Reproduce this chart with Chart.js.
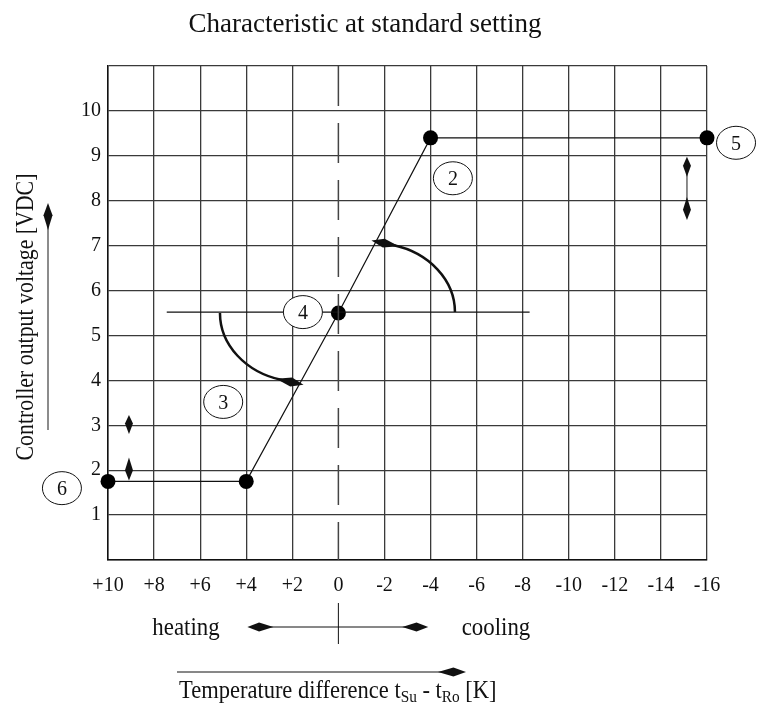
<!DOCTYPE html>
<html>
<head>
<meta charset="utf-8">
<script src="https://cdn.jsdelivr.net/npm/chart.js@4.4.0/dist/chart.umd.min.js"></script>
<style>
  body { margin: 0; background: #fff; }
  canvas { display: block; }
</style>
</head>
<body>
<canvas id="char_canvas" width="758" height="704"></canvas>
<script>
// Characteristic: temperature difference [K] -> controller output [VDC]
const curve_x = [10, 4, 0, -4, -16];
const curve_y = [1.75, 1.75, 5.5, 9.4, 9.4];

// horizontal line through the set point
const setline_x = [7.45, -8.3];
const setline_y = [5.52, 5.52];

// tick labels
const x_ticks = [10, 8, 6, 4, 2, 0, -2, -4, -6, -8, -10, -12, -14, -16];
const y_ticks = [1, 2, 3, 4, 5, 6, 7, 8, 9, 10];

// numbered circles (placed in data units)
const marker_text = ['2', '3', '4', '5', '6'];
const marker_x = [-4.97, 5.0, 1.54, -17.26, 12.0];
const marker_y = [8.5, 3.52, 5.52, 9.29, 1.6];

const FONT = "'Liberation Serif', 'Times New Roman', serif";

function head(ctx, x, y, ang, len, hw) {
    // leaf shaped arrow head, tip at x,y pointing to ang
    let c = Math.cos(ang), s = Math.sin(ang);
    let mx = x - c * len * 0.45, my = y - s * len * 0.45;
    ctx.beginPath();
    ctx.moveTo(x, y);
    ctx.lineTo(mx - s * hw, my + c * hw);
    ctx.lineTo(x - c * len, y - s * len);
    ctx.lineTo(mx + s * hw, my - c * hw);
    ctx.closePath();
    ctx.fill();
}

// quarter ellipse drawn with decreasing angle, arrow head at its end
function arcArrow(ctx, cx, cy, rx, ry, a0, a1) {
    ctx.beginPath();
    ctx.ellipse(cx, cy, rx, ry, 0, a0, a1, true);
    ctx.stroke();
    let ex = cx + rx * Math.cos(a1), ey = cy + ry * Math.sin(a1);
    let ang = Math.atan2(-ry * Math.cos(a1), rx * Math.sin(a1));
    head(ctx, ex + Math.cos(ang) * 22, ey + Math.sin(ang) * 22, ang, 28, 4.5);
}

function txt(ctx, str, x, y, size, sx, align) {
    ctx.save();
    ctx.translate(x, y);
    ctx.scale(sx, 1);
    ctx.font = size + 'px ' + FONT;
    ctx.textAlign = align || 'center';
    ctx.textBaseline = 'alphabetic';
    ctx.fillText(str, 0, 0);
    ctx.restore();
}

const extras = {
    id: 'extras',
    afterDraw(chart) {
        const ctx = chart.ctx;
        const xs = chart.scales.x, ys = chart.scales.y;
        const px = v => xs.getPixelForValue(v);
        const py = v => ys.getPixelForValue(v);
        ctx.save();
        ctx.fillStyle = '#111';
        ctx.strokeStyle = '#111';

        // title
        txt(ctx, 'Characteristic at standard setting', 365, 32, 27, 1);

        // curved arrows around the set point
        let rx = Math.abs(px(0) - px(3.56)), ry = Math.abs(py(0) - py(1.54));
        let cut = Math.acos(20 / rx);
        ctx.lineWidth = 2.5;
        arcArrow(ctx, px(-1.5), py(5.52), rx, ry, 0, -cut);
        arcArrow(ctx, px(1.58), py(5.5), rx, ry, Math.PI, Math.PI - cut);

        // up / down arrows
        ctx.lineWidth = 1.5;
        ctx.strokeStyle = '#666';
        let ax = px(-15.13);
        ctx.beginPath();
        ctx.moveTo(ax, py(8.9)); ctx.lineTo(ax, py(7.65));
        ctx.stroke();
        head(ctx, ax, py(8.98), -Math.PI / 2, 20, 4);
        head(ctx, ax, py(7.57), Math.PI / 2, 23, 4);
        ax = px(9.09);
        head(ctx, ax, py(3.23), -Math.PI / 2, 19, 4);
        head(ctx, ax, py(1.77), Math.PI / 2, 23, 4);

        // numbered circles
        ctx.strokeStyle = '#111';
        ctx.lineWidth = 1;
        for (let i = 0; i < marker_text.length; i++) {
            let mx = px(marker_x[i]), my = py(marker_y[i]);
            ctx.beginPath();
            ctx.ellipse(mx, my, 19.5, 16.5, 0, 0, Math.PI * 2);
            ctx.fillStyle = '#fff';
            ctx.fill();
            ctx.stroke();
            ctx.fillStyle = '#111';
            txt(ctx, marker_text[i], mx, my + 7, 20, 1);
        }

        // y axis title + arrow
        ctx.save();
        ctx.translate(33, 317);
        ctx.rotate(-Math.PI / 2);
        txt(ctx, 'Controller output voltage [VDC]', 0, 0, 26, 0.84);
        ctx.restore();
        ctx.strokeStyle = '#666';
        ctx.lineWidth = 1.5;
        ctx.beginPath();
        ctx.moveTo(48, 430); ctx.lineTo(48, 215);
        ctx.stroke();
        head(ctx, 48, 203, -Math.PI / 2, 27, 4.5);

        // heating / cooling
        let hy = 627;
        ctx.strokeStyle = '#111';
        ctx.lineWidth = 1;
        ctx.beginPath();
        ctx.moveTo(px(3.6), hy); ctx.lineTo(px(-3.6), hy);
        ctx.moveTo(px(0), 603); ctx.lineTo(px(0), 644);
        ctx.stroke();
        head(ctx, px(3.95), hy, Math.PI, 26, 4.5);
        head(ctx, px(-3.9), hy, 0, 26, 4.5);
        txt(ctx, 'heating', 186, 635, 26, 0.88);
        txt(ctx, 'cooling', 496, 635, 26, 0.88);

        // temperature difference arrow + label
        ctx.beginPath();
        ctx.moveTo(177, 672); ctx.lineTo(450, 672);
        ctx.stroke();
        head(ctx, 466, 672, 0, 28, 4.5);
        let sx = 0.9, x0 = 179, by = 698;
        const part = (s, size, dy) => {
            ctx.font = size + 'px ' + FONT;
            txt(ctx, s, x0, by + dy, size, sx, 'left');
            x0 += ctx.measureText(s).width * sx;
        };
        part('Temperature difference t', 25, 0);
        part('Su', 17, 4);
        part(' - t', 25, 0);
        part('Ro', 17, 4);
        part(' [K]', 25, 0);

        ctx.restore();
    }
};

const gridColor = c => (c.tick && c.tick.value === 0 && c.scale.axis === 'x') ? 'rgba(0,0,0,0)' : '#3a3a3a';

let char_chart = new Chart(document.getElementById('char_canvas'), {
    type: 'scatter',
    data: {
        datasets: [
            {
                // dashed zero line
                data: [{ x: 0, y: 11 }, { x: 0, y: 0 }],
                showLine: true,
                borderColor: '#444',
                borderWidth: 1.5,
                borderDash: [40, 17],
                pointRadius: 0
            },
            {
                data: setline_x.map((v, i) => ({ x: v, y: setline_y[i] })),
                showLine: true,
                borderColor: '#111',
                borderWidth: 1.2,
                pointRadius: 0
            },
            {
                data: curve_x.map((v, i) => ({ x: v, y: curve_y[i] })),
                showLine: true,
                borderColor: '#111',
                borderWidth: 1.2,
                pointRadius: 7.5,
                pointBackgroundColor: '#000',
                pointBorderWidth: 0,
                clip: false
            }
        ]
    },
    options: {
        responsive: false,
        animation: false,
        layout: { padding: { left: 0, right: 51, top: 66, bottom: 104 } },
        plugins: { legend: { display: false }, tooltip: { enabled: false } },
        scales: {
            x: {
                type: 'linear',
                reverse: true,
                min: -16,
                max: 10,
                afterFit: s => { s.height = 40; },
                afterBuildTicks: s => { s.ticks = x_ticks.map(v => ({ value: v })); },
                ticks: {
                    autoSkip: false,
                    maxRotation: 0,
                    padding: 14,
                    color: '#111',
                    font: { family: FONT, size: 20 },
                    callback: v => v > 0 ? '+' + v : '' + v
                },
                grid: { color: gridColor, lineWidth: 1.3, drawTicks: false },
                border: { color: '#111', width: 1.5 }
            },
            y: {
                min: 0,
                max: 11,
                afterFit: s => { s.width = 108; },
                ticks: {
                    stepSize: 1,
                    padding: 7,
                    color: '#111',
                    font: { family: FONT, size: 20 },
                    callback: v => y_ticks.includes(v) ? '' + v : ''
                },
                grid: { color: gridColor, lineWidth: 1.3, drawTicks: false },
                border: { color: '#111', width: 1.5 }
            }
        }
    },
    plugins: [extras]
});
</script>
</body>
</html>
